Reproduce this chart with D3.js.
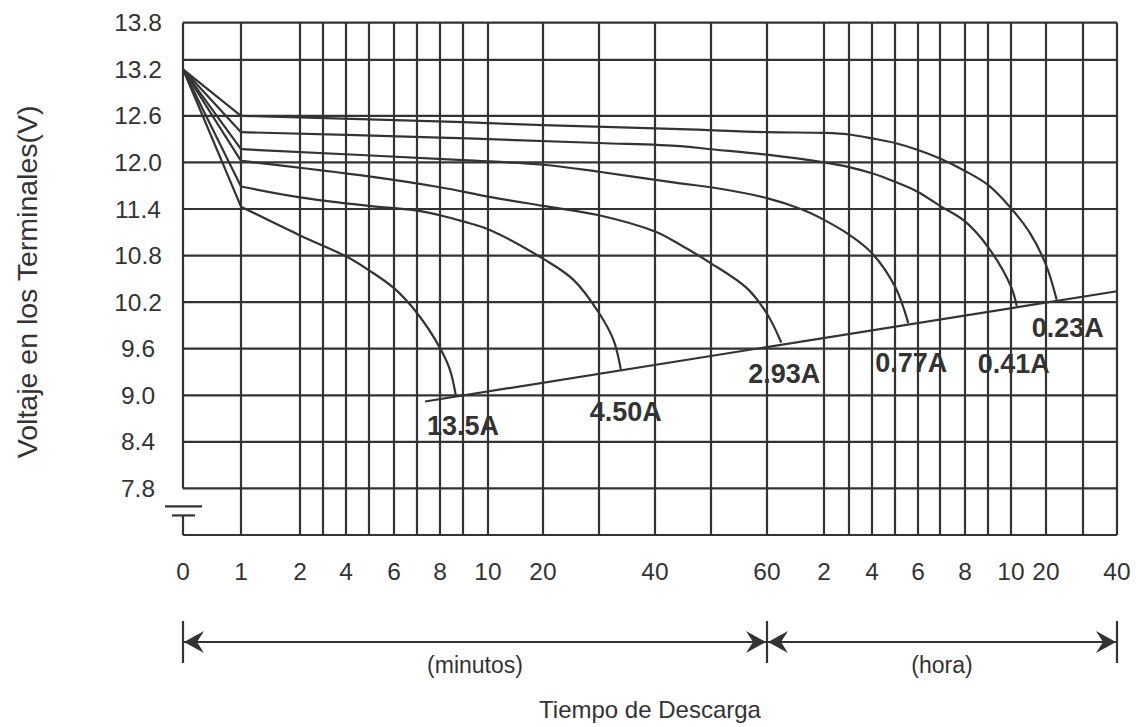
<!DOCTYPE html>
<html><head><meta charset="utf-8">
<script src="https://cdn.jsdelivr.net/npm/d3@7"></script>
<style>body{margin:0;background:#fff}svg{display:block}</style>
</head><body>
<svg id="chart" width="1138" height="727"></svg>
<script>
// ---------------- data ----------------
const gridMinutes = [0,1,2,3,4,5,6,7,8,9,10,20,30,40,50,60,120,180,240,300,360,420,480,540,600,1200,1800,2400];
const xTickMinutes = [0,1,2,4,6,8,10,20,40,60,120,240,360,480,600,1200,2400];
const xTickLabels = ["0","1","2","4","6","8","10","20","40","60","2","4","6","8","10","20","40"];
const yTickValues = [13.8,13.2,12.6,12.0,11.4,10.8,10.2,9.6,9.0,8.4,7.8];
const yGridValues = [13.8,13.32,12.6,12.0,11.4,10.8,10.2,9.6,9.0,8.4,7.8,7.2];

const seriesNames = ["13.5A","4.50A","2.93A","0.77A","0.41A","0.23A"];
const t13_5A = [0,1,2,4,5,6,7,8,8.43,8.7];
const v13_5A = [13.2,11.43,11.06,10.79,10.61,10.38,10.06,9.61,9.33,8.98];
const t4_50A = [0,1,2,5,7,8,9,10,20,25.4,30,32.6,33.9];
const v4_50A = [13.2,11.69,11.55,11.44,11.38,11.32,11.24,11.14,10.76,10.49,10.06,9.71,9.33];
const t2_93A = [0,1,5,8,10,20,30,40,44.5,50,56.4,60,75];
const v2_93A = [13.2,12.02,11.82,11.68,11.56,11.44,11.32,11.11,10.94,10.70,10.38,10.05,9.68];
const t0_77A = [0,1,9,20,30,44.5,50,60,97.6,120,180,240,300,334.7];
const v0_77A = [13.2,12.17,12.03,11.97,11.88,11.73,11.68,11.54,11.39,11.26,11.07,10.83,10.40,9.93];
const t0_41A = [0,1,8,30,44.5,50,60,120,180,240,300,360,420,480,540,600,698];
const v0_41A = [13.2,12.39,12.32,12.25,12.21,12.17,12.10,12.00,11.94,11.86,11.75,11.62,11.44,11.24,10.91,10.40,10.15];
const t0_23A = [0,1,9,20,44.5,60,120,180,240,300,360,420,480,540,600,925.7,1200,1373.5];
const v0_23A = [13.2,12.60,12.52,12.48,12.43,12.39,12.38,12.36,12.31,12.25,12.16,12.05,11.89,11.71,11.41,11.09,10.68,10.23];
const cutoffT = [7.35, 2400];
const cutoffV = [8.92, 10.34];

const yTitle = "Voltaje en los Terminales(V)";
const xTitle = "Tiempo de Descarga";
const spanMinutesLabel = "(minutos)";
const spanHoursLabel = "(hora)";

(function () {
// ---------------- layout ----------------
const ink = "#333333";
const pL = 183, pR = 1117, pT = 22.7, pB = 535;
// relative widths of the gaps between successive vertical grid lines
const gapWidths = [58,59,23,23,23,25,23,23,23,25,55,56,56,56,56,57,25,23,23,23,22,25,23,23,35,37,34];
const gapTotal = d3.sum(gapWidths);
const cum = [0]; gapWidths.forEach(g => cum.push(cum[cum.length-1] + g));
const xRange = cum.map(c => pL + c / gapTotal * (pR - pL));
// label offsets (dx, dy) from each curve's end point
const labelOffsets = [[7,38],[5,51],[3,41],[3,49],[-3,67],[11,37]];

const x = d3.scaleLinear().domain(gridMinutes).range(xRange);
const y = d3.scaleLinear().domain([7.2, 13.8]).range([pB, pT]);

const svg = d3.select("#chart");
svg.append("rect").attr("width",1138).attr("height",727).attr("fill","#fff");

// grid
const g = svg.append("g").attr("stroke", ink).attr("stroke-width", 2.2).attr("fill","none");
g.selectAll("line.v").data(gridMinutes).join("line").attr("class","v")
  .attr("x1", d => x(d)).attr("x2", d => x(d))
  .attr("y1", pT).attr("y2", d => d === 0 ? y(7.8) : pB);
g.selectAll("line.h").data(yGridValues).join("line").attr("class","h")
  .attr("x1", pL).attr("x2", pR)
  .attr("y1", d => y(d)).attr("y2", d => y(d));

// battery symbol on the left axis
const bat = svg.append("g").attr("stroke", ink).attr("stroke-width", 2.2);
const yPlate1 = y(7.8) + 18, yPlate2 = y(7.8) + 27;
bat.append("line").attr("x1", pL-18).attr("x2", pL+19).attr("y1", yPlate1).attr("y2", yPlate1);
bat.append("line").attr("x1", pL-11).attr("x2", pL+12).attr("y1", yPlate2).attr("y2", yPlate2);
bat.append("line").attr("x1", pL).attr("x2", pL).attr("y1", yPlate2).attr("y2", pB);

// curves
const seriesT = [t13_5A, t4_50A, t2_93A, t0_77A, t0_41A, t0_23A];
const seriesV = [v13_5A, v4_50A, v2_93A, v0_77A, v0_41A, v0_23A];
const lineStraight = d3.line().x(d => x(d[0])).y(d => y(d[1]));
const lineSmooth = d3.line().x(d => x(d[0])).y(d => y(d[1])).curve(d3.curveCatmullRom.alpha(0.5));
const cg = svg.append("g").attr("stroke", ink).attr("stroke-width", 2.2).attr("fill","none")
  .attr("stroke-linejoin","round");
seriesNames.forEach((name, i) => {
  const pts = seriesT[i].map((t, k) => [t, seriesV[i][k]]);
  cg.append("path").attr("d", lineStraight(pts.slice(0,2)));
  cg.append("path").attr("d", lineSmooth(pts.slice(1)));
});
// cut-off line
cg.append("path").attr("d", lineStraight(cutoffT.map((t,k)=>[t, cutoffV[k]])));

// series labels
const lg = svg.append("g").attr("fill", ink).attr("font-family","'Liberation Sans', Arial, sans-serif")
  .attr("font-weight","bold").attr("font-size", 27).attr("text-anchor","middle");
seriesNames.forEach((name, i) => {
  const n = seriesT[i].length;
  lg.append("text")
    .attr("x", x(seriesT[i][n-1]) + labelOffsets[i][0])
    .attr("y", y(seriesV[i][n-1]) + labelOffsets[i][1])
    .text(name);
});

// tick labels
const tg = svg.append("g").attr("fill", ink).attr("font-family","'Liberation Sans', Arial, sans-serif")
  .attr("font-size", 24.5).attr("text-anchor","middle");
tg.selectAll("text.y").data(yTickValues).join("text").attr("class","y")
  .attr("x", 138).attr("y", d => y(d)).attr("dy","0.35em")
  .text(d => d.toFixed(1));
tg.selectAll("text.x").data(xTickMinutes).join("text").attr("class","x")
  .attr("x", d => x(d)).attr("y", pB + 45)
  .text((d,i) => xTickLabels[i]);

// y title
svg.append("text").attr("fill", ink).attr("font-family","'Liberation Sans', Arial, sans-serif")
  .attr("font-size", 28.5).attr("text-anchor","middle")
  .attr("transform", `translate(27,${(pT+pB)/2+3}) rotate(-90)`)
  .attr("dy","0.35em")
  .text(yTitle);

// bottom spans with arrows
const ay = 642;
const ag = svg.append("g").attr("stroke", ink).attr("stroke-width", 2.2);
const xMid = x(60);
[pL, xMid, pR].forEach(px => {
  ag.append("line").attr("x1", px).attr("x2", px).attr("y1", ay-21).attr("y2", ay+21);
});
ag.append("line").attr("x1", pL).attr("x2", pR).attr("y1", ay).attr("y2", ay);
function arrow(tipX, dir) {
  const p = [[tipX, ay],[tipX - dir*20, ay-11],[tipX - dir*13, ay],[tipX - dir*20, ay+11]];
  svg.append("path").attr("d", "M" + p.map(q => q.join(",")).join("L") + "Z").attr("fill", ink);
}
arrow(pL+1, -1); arrow(xMid-1, 1); arrow(xMid+1, -1); arrow(pR-1, 1);

const bg = svg.append("g").attr("fill", ink).attr("font-family","'Liberation Sans', Arial, sans-serif")
  .attr("text-anchor","middle");
bg.append("text").attr("x", (pL + xMid)/2).attr("y", 673).attr("font-size", 23).text(spanMinutesLabel);
bg.append("text").attr("x", (xMid + pR)/2).attr("y", 673).attr("font-size", 23).text(spanHoursLabel);
bg.append("text").attr("x", (pL + pR)/2).attr("y", 718).attr("font-size", 24).text(xTitle);
})();
</script>
</body></html>
